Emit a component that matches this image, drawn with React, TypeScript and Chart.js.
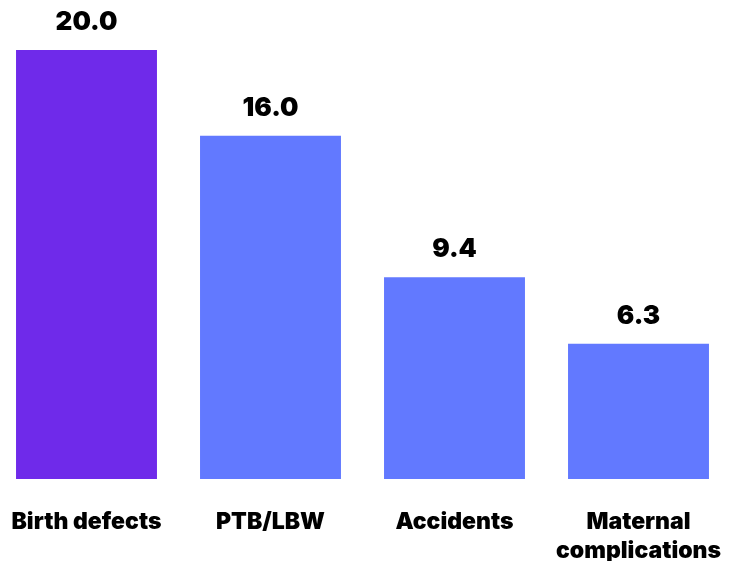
import { useEffect, useRef } from 'react';
import { Chart, registerables } from 'chart.js';

Chart.register(...registerables);

const categories: (string | string[])[] = ['Birth defects', 'PTB/LBW', 'Accidents', ['Maternal', 'complications']];
const values = [20.0, 16.0, 9.4, 6.3];
const barColors = ['#6F2AEA', '#6279FF', '#6279FF', '#6279FF'];

// bold value above each bar
const valueLabels = {
  id: 'valueLabels',
  afterDatasetsDraw(chart: Chart) {
    const ctx = chart.ctx;
    const meta = chart.getDatasetMeta(0);
    ctx.save();
    ctx.font = '900 26px Inter, "DejaVu Sans", sans-serif';
    ctx.fillStyle = '#000';
    ctx.textAlign = 'center';
    ctx.textBaseline = 'alphabetic';
    meta.data.forEach((bar: any, i: number) => {
      ctx.fillText(values[i].toFixed(1), bar.x, bar.y - 20);
    });
    ctx.restore();
  },
};

export default function App() {
  const canvasRef = useRef<HTMLCanvasElement>(null);

  useEffect(() => {
    document.body.style.margin = '0';
    if (!canvasRef.current) return;
    const chart = new Chart(canvasRef.current, {
      type: 'bar',
      data: {
        labels: categories,
        datasets: [{
          data: values,
          backgroundColor: barColors,
          borderWidth: 0,
          barPercentage: 0.766,
          categoryPercentage: 1,
        }],
      },
      options: {
        animation: false,
        responsive: true,
        maintainAspectRatio: false,
        layout: { padding: { top: 50, left: 0.5, right: 9.5, bottom: 0 } },
        plugins: { legend: { display: false }, tooltip: { enabled: false } },
        scales: {
          x: {
            grid: { display: false, drawTicks: false },
            border: { display: false },
            ticks: {
              color: '#000',
              padding: 29,
              maxRotation: 0,
              autoSkip: false,
              font: { family: 'Inter, sans-serif', size: 23, weight: '900', lineHeight: 1.24 },
            },
            afterFit: (scale: any) => {
              scale.height = 82;
              scale.paddingLeft = 0;
              scale.paddingRight = 0;
            },
          },
          y: { display: false, min: 0, max: 20 },
        },
      },
      plugins: [valueLabels],
    });
    return () => chart.destroy();
  }, []);

  return (
    <div style={{ position: 'relative', width: 740, height: 561, overflow: 'hidden' }}>
      <div style={{ position: 'absolute', left: -6, top: 0, width: 746, height: 561 }}>
        <canvas ref={canvasRef} />
      </div>
    </div>
  );
}
